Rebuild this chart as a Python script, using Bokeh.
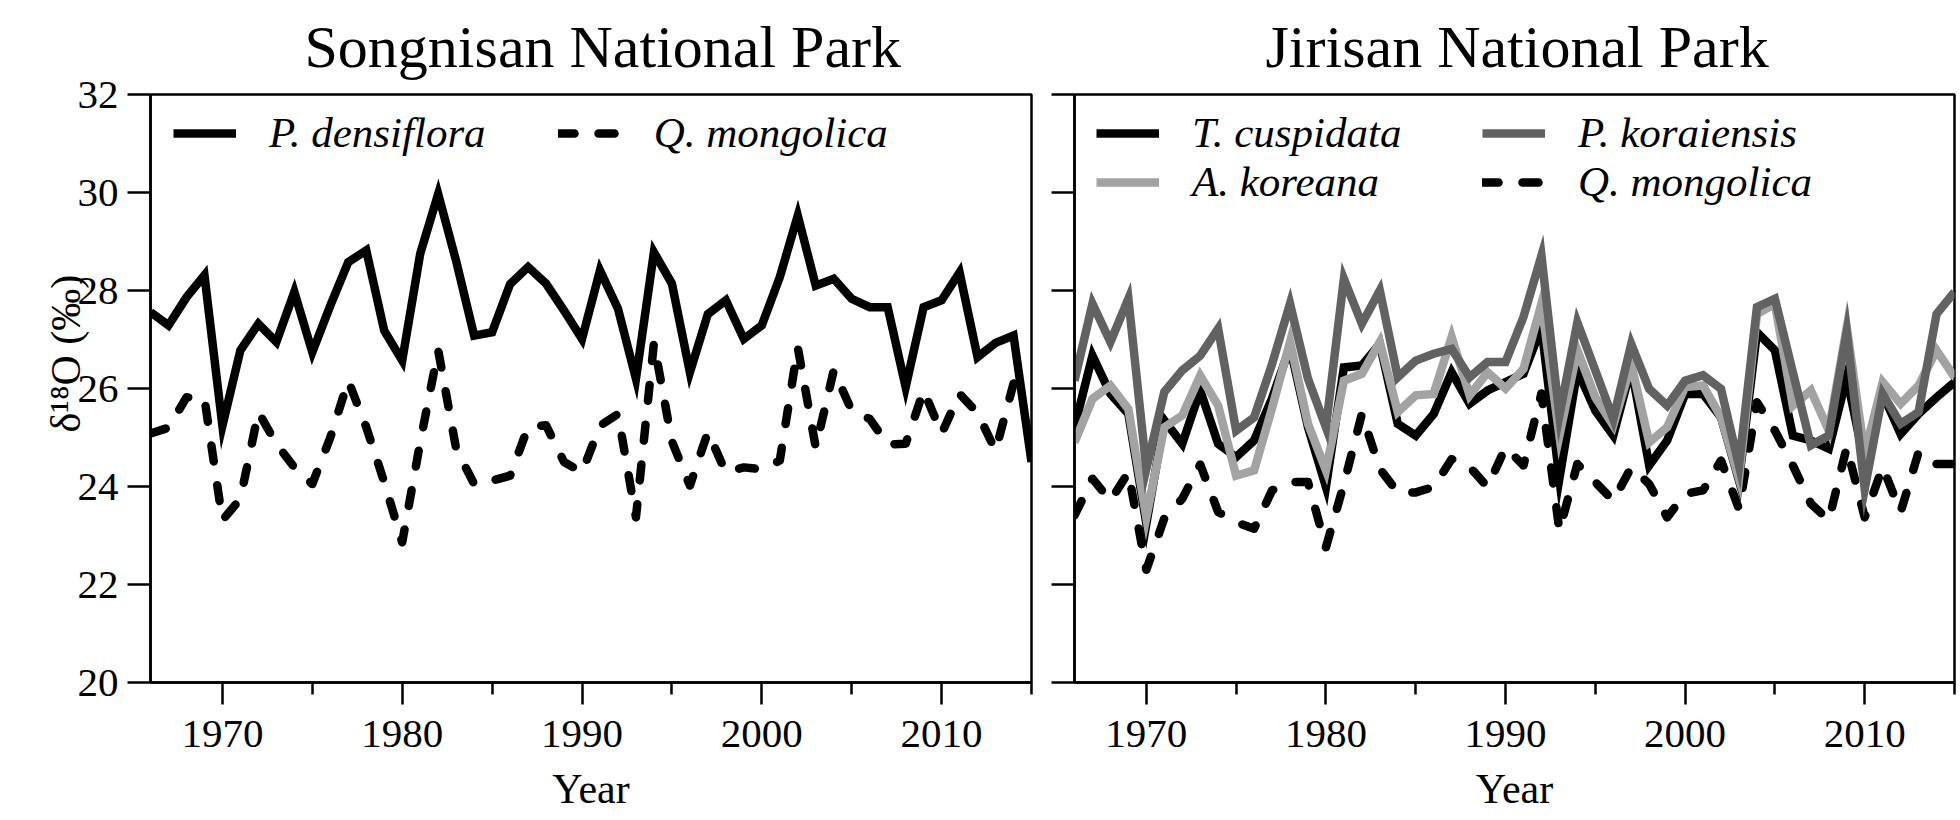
from bokeh.plotting import figure
from bokeh.layouts import row
from bokeh.models import FixedTicker, Legend, LegendItem, Range1d, ColumnDataSource, Title
from bokeh.embed import file_html
from bokeh.resources import INLINE

years = list(range(1966, 2016))

# Songnisan National Park
song_p_densiflora = [27.56, 27.29, 27.86, 28.31, 25.24, 26.78, 27.32, 26.95, 27.97, 26.74,
                     27.69, 28.58, 28.82, 27.18, 26.57, 28.75, 29.97, 28.60, 27.08, 27.15,
                     28.13, 28.48, 28.14, 27.59, 27.01, 28.41, 27.63, 26.20, 28.78, 28.14,
                     26.33, 27.52, 27.80, 27.01, 27.29, 28.27, 29.53, 28.10, 28.24, 27.83,
                     27.66, 27.66, 26.03, 27.66, 27.80, 28.37, 26.64, 26.93, 27.08, 24.50]
song_q_mongolica = [25.08, 25.20, 25.82, 25.80, 23.31, 23.75, 25.52, 24.87, 24.39, 24.05,
                    25.00, 26.16, 25.21, 24.09, 22.86, 24.90, 26.78, 24.77, 24.05, 24.12,
                    24.22, 25.21, 25.25, 24.50, 24.29, 25.24, 25.48, 23.37, 26.93, 24.92,
                    24.02, 25.11, 24.29, 24.39, 24.35, 24.53, 26.84, 24.80, 26.37, 25.55,
                    25.38, 24.86, 24.87, 25.96, 25.08, 25.89, 25.50, 24.73, 26.10, 26.20]

# Jirisan National Park
jiri_t_cuspidata = [25.21, 26.67, 25.89, 25.48, 23.24, 25.35, 24.87, 25.96, 24.87, 24.60,
                    24.94, 25.80, 26.85, 25.21, 23.99, 26.43, 26.47, 26.91, 25.28, 25.04,
                    25.48, 26.33, 25.69, 25.96, 26.13, 26.30, 27.25, 24.16, 26.37, 25.55,
                    25.04, 26.43, 24.43, 24.94, 25.89, 25.89, 25.41, 24.12, 27.15, 26.78,
                    25.04, 24.94, 24.77, 26.23, 24.46, 25.89, 25.07, 25.48, 25.82, 26.13]
jiri_a_koreana = [24.90, 25.79, 26.06, 25.58, 23.37, 25.21, 25.45, 26.26, 25.65, 24.22,
                  24.33, 25.60, 26.95, 25.28, 24.33, 26.16, 26.30, 26.95, 25.52, 25.86,
                  25.89, 27.05, 25.86, 26.33, 26.00, 26.40, 27.73, 25.04, 26.78, 25.82,
                  25.25, 26.50, 24.90, 25.21, 26.03, 26.06, 25.41, 24.16, 27.52, 27.73,
                  25.65, 25.96, 25.14, 27.25, 24.67, 26.13, 25.69, 26.06, 26.78, 26.23]
jiri_p_koraiensis = [26.16, 27.73, 26.95, 27.83, 24.36, 25.93, 26.37, 26.67, 27.22, 25.14,
                     25.41, 26.50, 27.73, 26.20, 25.21, 28.24, 27.32, 28.00, 26.23, 26.57,
                     26.71, 26.81, 26.23, 26.54, 26.54, 27.46, 28.71, 25.45, 27.35, 26.37,
                     25.38, 26.91, 25.99, 25.65, 26.16, 26.27, 25.99, 24.43, 27.66, 27.83,
                     26.33, 24.84, 25.04, 27.15, 23.95, 25.89, 25.28, 25.52, 27.52, 27.97]
jiri_q_mongolica = [23.41, 24.16, 23.71, 24.29, 22.30, 23.35, 23.75, 24.45, 23.48, 23.27,
                    23.14, 23.92, 24.09, 24.09, 22.76, 24.05, 25.48, 24.36, 23.88, 23.88,
                    23.99, 24.56, 24.40, 23.99, 24.80, 24.43, 25.90, 23.10, 24.46, 24.09,
                    23.71, 24.39, 24.05, 23.37, 23.85, 23.92, 24.53, 23.54, 25.72, 25.14,
                    24.43, 23.65, 23.31, 24.80, 23.37, 24.40, 23.48, 24.70, 24.46, 24.46]

x_major = [1970, 1980, 1990, 2000, 2010]
x_minor = [1975, 1985, 1995, 2005, 2015]
y_major = [20, 22, 24, 26, 28, 30, 32]

FONT = "Liberation Serif"
FONT2 = "Liberation Serif, serif"
LW = 8.5
DASH = "16 24"


def style(p, show_ylabels, title_text, title_offset):
    p.x_range = Range1d(1966, 2015)
    p.y_range = Range1d(20, 32)
    p.outline_line_color = "black"
    p.outline_line_width = 2.5
    p.outline_line_alpha = 1
    p.xgrid.visible = False
    p.ygrid.visible = False
    p.background_fill_color = "white"
    p.border_fill_color = "white"
    p.add_layout(Title(text=title_text, align="left", offset=title_offset,
                       vertical_align="top", standoff=26, text_font=FONT2,
                       text_font_size="60px", text_font_style="normal",
                       text_color="black"), "above")
    for ax in (p.xaxis[0], p.yaxis[0]):
        ax.axis_line_width = 2.5
        ax.axis_line_color = "black"
        ax.major_tick_line_width = 2.5
        ax.minor_tick_line_width = 2.5
        ax.major_tick_in = 0
        ax.minor_tick_in = 0
        ax.major_label_text_font = FONT
        ax.major_label_text_font_size = "41px"
        ax.major_label_text_color = "black"
        ax.axis_label_text_font = FONT
        ax.axis_label_text_font_size = "42px"
        ax.axis_label_text_font_style = "normal"
        ax.axis_label_text_color = "black"
    xa = p.xaxis[0]
    xa.ticker = FixedTicker(ticks=x_major, minor_ticks=x_minor)
    xa.major_tick_out = 22
    xa.minor_tick_out = 12
    xa.major_label_standoff = 16
    xa.axis_label = "Year"
    xa.axis_label_standoff = 16
    ya = p.yaxis[0]
    ya.ticker = FixedTicker(ticks=y_major, minor_ticks=[])
    ya.major_tick_out = 23
    ya.minor_tick_out = 0
    ya.major_label_standoff = 9
    if not show_ylabels:
        ya.major_label_overrides = {t: "" for t in y_major}


H = 820
p1 = figure(width=1033, height=H, output_backend="svg", toolbar_location=None,
            min_border_left=150, min_border_right=2, min_border_top=94, min_border_bottom=138)
style(p1, True, "Songnisan National Park", 154)

ylab = Title(text="δ¹⁸O (‰)", align="left", offset=250, standoff=-28, text_font=FONT2,
             text_font_size="42px", text_font_style="normal", text_color="black")
p1.add_layout(ylab, "left")

src1 = ColumnDataSource(dict(year=years, pd=song_p_densiflora, qm=song_q_mongolica))
r_qm1 = p1.line("year", "qm", source=src1, line_color="black", line_width=LW,
                line_dash=DASH, line_cap="round", line_join="round")
r_pd = p1.line("year", "pd", source=src1, line_color="black", line_width=LW, line_join="miter")

leg1 = Legend(items=[LegendItem(label="P. densiflora", renderers=[r_pd]),
                     LegendItem(label="Q. mongolica", renderers=[r_qm1])],
              orientation="horizontal", location=(23, 525), glyph_width=63, glyph_height=20,
              label_standoff=33, spacing=72, padding=0, margin=0,
              border_line_alpha=0, background_fill_alpha=0, label_text_color="black",
              label_text_font=FONT2, label_text_font_style="italic", label_text_font_size="43px")
p1.add_layout(leg1)

p2 = figure(width=925, height=H, output_backend="svg", toolbar_location=None,
            min_border_left=41, min_border_right=4, min_border_top=94, min_border_bottom=138)
style(p2, False, "Jirisan National Park", 191)

src2 = ColumnDataSource(dict(year=years, tc=jiri_t_cuspidata, ak=jiri_a_koreana,
                             pk=jiri_p_koraiensis, qm=jiri_q_mongolica))
r_qm2 = p2.line("year", "qm", source=src2, line_color="black", line_width=LW,
                line_dash=DASH, line_cap="round", line_join="round")
r_tc = p2.line("year", "tc", source=src2, line_color="black", line_width=LW, line_join="miter")
r_ak = p2.line("year", "ak", source=src2, line_color="#a3a3a3", line_width=LW, line_join="miter")
r_pk = p2.line("year", "pk", source=src2, line_color="#626262", line_width=LW, line_join="miter")

common = dict(orientation="vertical", glyph_width=63, glyph_height=20, label_standoff=33,
              spacing=-2, padding=0, margin=0, border_line_alpha=0, background_fill_alpha=0,
              label_text_color="black",
              label_text_font=FONT2, label_text_font_style="italic", label_text_font_size="43px")
leg2a = Legend(items=[LegendItem(label="T. cuspidata", renderers=[r_tc]),
                      LegendItem(label="A. koreana", renderers=[r_ak])],
               location=(22, 476), **common)
leg2b = Legend(items=[LegendItem(label="P. koraiensis", renderers=[r_pk]),
                      LegendItem(label="Q. mongolica", renderers=[r_qm2])],
               location=(408, 476), **common)
p2.add_layout(leg2a)
p2.add_layout(leg2b)

layout = row(p1, p2)
open("out.html", "w").write(file_html(layout, INLINE))
